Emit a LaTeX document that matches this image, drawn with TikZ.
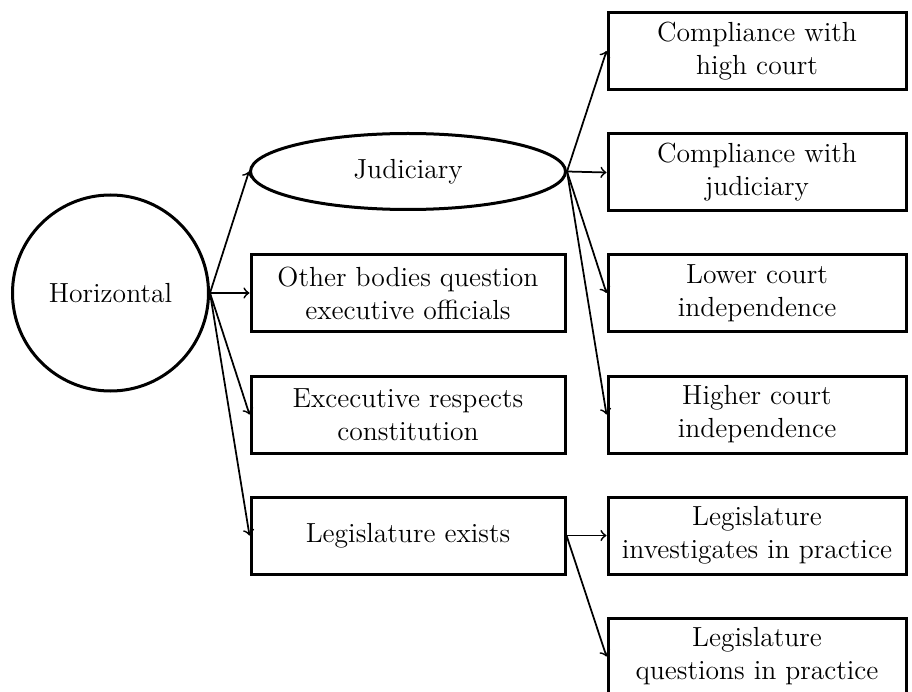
\documentclass[tikz,border=0pt]{standalone}
\usetikzlibrary{shapes.geometric}
\begin{document}
\begin{tikzpicture}[x=0.4pt,y=-0.4pt,
  every node/.style={font=\fontsize{11.05}{13.2}\selectfont, align=center, inner sep=0pt},
  hub/.style={circle, draw, line width=1.2pt, minimum size=78.4pt},
  branch/.style={ellipse, draw, line width=1.2pt, minimum width=126pt, minimum height=30.4pt},
  midbox/.style={rectangle, draw, line width=1.2pt, minimum width=125.6pt, minimum height=30.8pt},
  leafbox/.style={rectangle, draw, line width=1.2pt, minimum width=119.2pt, minimum height=30.8pt},
  link/.style={->, line width=0.7pt}]
\useasboundingbox (0,0) rectangle (912,692);
\clip (0,0) rectangle (912,692);

% root
\node[hub] (hz) at (110.5,293) {Horizontal};

% second level
\node[branch] (jud) at (408,171.5) {Judiciary};
\node[midbox] (oth) at (408,293) {Other bodies question\\executive officials};
\node[midbox] (exe) at (408,414.5) {Excecutive respects\\constitution};
\node[midbox] (leg) at (408,535.5) {Legislature exists};

% third level
\node[leafbox] (chc) at (757,51) {Compliance with\\high court};
\node[leafbox] (cjd) at (757,172.5) {Compliance with\\judiciary};
\node[leafbox] (lci) at (757,293) {Lower court\\independence};
\node[leafbox] (hci) at (757,414.5) {Higher court\\independence};
\node[leafbox] (lip) at (757,535.5) {Legislature\\investigates in practice};
\node[leafbox] (lqp) at (757,656.5) {Legislature\\questions in practice};

% connectors
\foreach \t in {jud,oth,exe,leg} \draw[link] (hz.east) -- (\t.west);
\foreach \t in {chc,cjd,lci,hci} \draw[link] (jud.east) -- (\t.west);
\foreach \t in {lip,lqp} \draw[link] (leg.east) -- (\t.west);
\end{tikzpicture}
\end{document}
